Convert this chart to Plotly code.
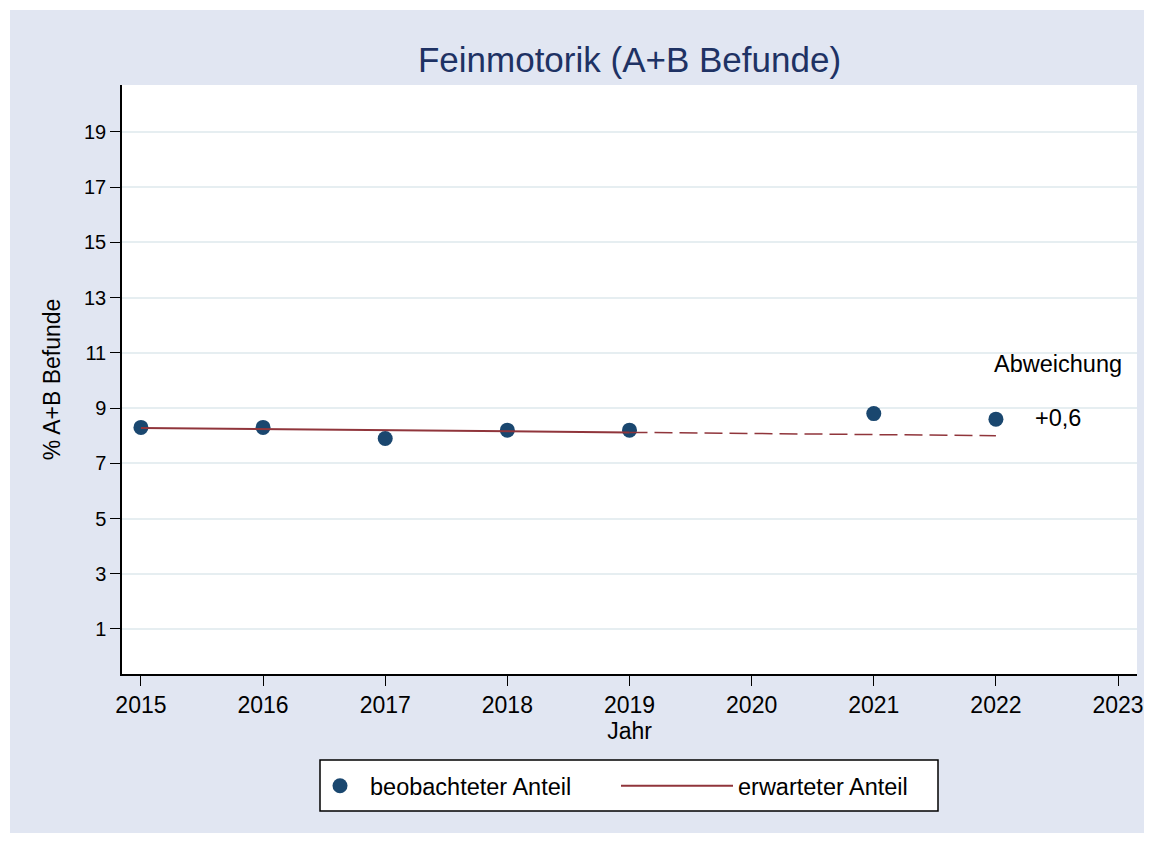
import plotly.graph_objects as go

# ---- data ----
obs_years = [2015, 2016, 2017, 2018, 2019, 2021, 2022]
obs_values = [8.3, 8.3, 7.9, 8.2, 8.2, 8.8, 8.6]
fit_years = [2015, 2019]
fit_values = [8.28, 8.12]
proj_years = [2019, 2022]
proj_values = [8.12, 8.0]
x_ticks = [2015, 2016, 2017, 2018, 2019, 2020, 2021, 2022, 2023]
y_ticks = [1, 3, 5, 7, 9, 11, 13, 15, 17, 19]
deviation_label = "+0,6"

W, H = 1154, 843
ML, MR, MT, MB = 122, 17, 85, 169
PW, PH = W - ML - MR, H - MT - MB

NAVY = "#1A476F"
MAROON = "#90353B"
BG = "#E1E6F2"
GRID = "#E6EEF1"
FONT = "Liberation Sans, Arial, sans-serif"

fig = go.Figure()
fig.add_trace(go.Scatter(x=obs_years, y=obs_values, mode="markers",
                         name="beobachteter Anteil", legend="legend",
                         marker=dict(color=NAVY, size=15)))
fig.add_trace(go.Scatter(x=fit_years, y=fit_values, mode="lines",
                         name="erwarteter Anteil", legend="legend2",
                         line=dict(color=MAROON, width=2)))
fig.add_trace(go.Scatter(x=proj_years, y=proj_values, mode="lines",
                         showlegend=False,
                         line=dict(color=MAROON, width=1.5, dash="18px,7px")))

def px_x(p):
    return (p - ML) / PW

def px_y(p):
    return (H - MB - p) / PH

white_strips = [
    (0, 0, W, 10), (0, H - 10, W, H), (0, 0, 10, H), (W - 10, 0, W, H)
]
shapes = []
for x0, y0, x1, y1 in white_strips:
    shapes.append(dict(type="rect", xref="paper", yref="paper",
                       x0=px_x(x0), x1=px_x(x1), y0=px_y(y1), y1=px_y(y0),
                       fillcolor="white", line=dict(width=0), layer="above"))
# legend frame
shapes.append(dict(type="rect", xref="paper", yref="paper",
                   x0=px_x(320), x1=px_x(938), y0=px_y(811), y1=px_y(760),
                   fillcolor="white", line=dict(color="black", width=1.5),
                   layer="above"))

legend_common = dict(orientation="h", xref="container", xanchor="left",
                     yref="container", y=1 - 786 / H, yanchor="middle",
                     bgcolor="rgba(0,0,0,0)", borderwidth=0,
                     font=dict(size=23.5))

fig.update_layout(
    width=W, height=H,
    margin=dict(l=ML, r=MR, t=MT, b=MB, autoexpand=False),
    paper_bgcolor=BG, plot_bgcolor="white",
    font=dict(family=FONT, color="black", size=23),
    title=dict(text="Feinmotorik (A+B Befunde)", x=0.5, xref="paper",
               y=1 - 60 / H, yanchor="middle",
               font=dict(size=35, color="#1E3264", family=FONT)),
    xaxis=dict(range=[2014.845, 2023.155], tickvals=x_ticks,
               ticktext=[str(v) for v in x_ticks],
               showgrid=False, zeroline=False, showline=True,
               linecolor="black", linewidth=1.5,
               ticks="outside", ticklen=10, tickcolor="black", tickwidth=1.2,
               tickfont=dict(size=23),
               title=dict(text="Jahr", font=dict(size=23), standoff=3)),
    yaxis=dict(range=[-0.63, 20.7], tickvals=y_ticks,
               showgrid=True, gridcolor=GRID, gridwidth=1.5,
               zeroline=False, showline=True,
               linecolor="black", linewidth=1.5,
               ticks="outside", ticklen=10, tickcolor="black", tickwidth=1.2,
               tickfont=dict(size=20),
               title=dict(text="% A+B Befunde", font=dict(size=23), standoff=17)),
    legend=dict(x=310 / W, itemwidth=50, **legend_common),
    legend2=dict(x=616 / W, itemwidth=112, **legend_common),
    shapes=shapes,
    annotations=[
        dict(x=2022.51, y=10.6, xref="x", yref="y", text="Abweichung",
             showarrow=False, font=dict(size=23.5)),
        dict(x=2022.51, y=8.65, xref="x", yref="y", text=deviation_label,
             showarrow=False, font=dict(size=23.5)),
    ],
)

fig.write_html("out.html", config={"displayModeBar": False},
               post_script="document.body.style.margin='0';document.body.style.overflow='hidden';")
